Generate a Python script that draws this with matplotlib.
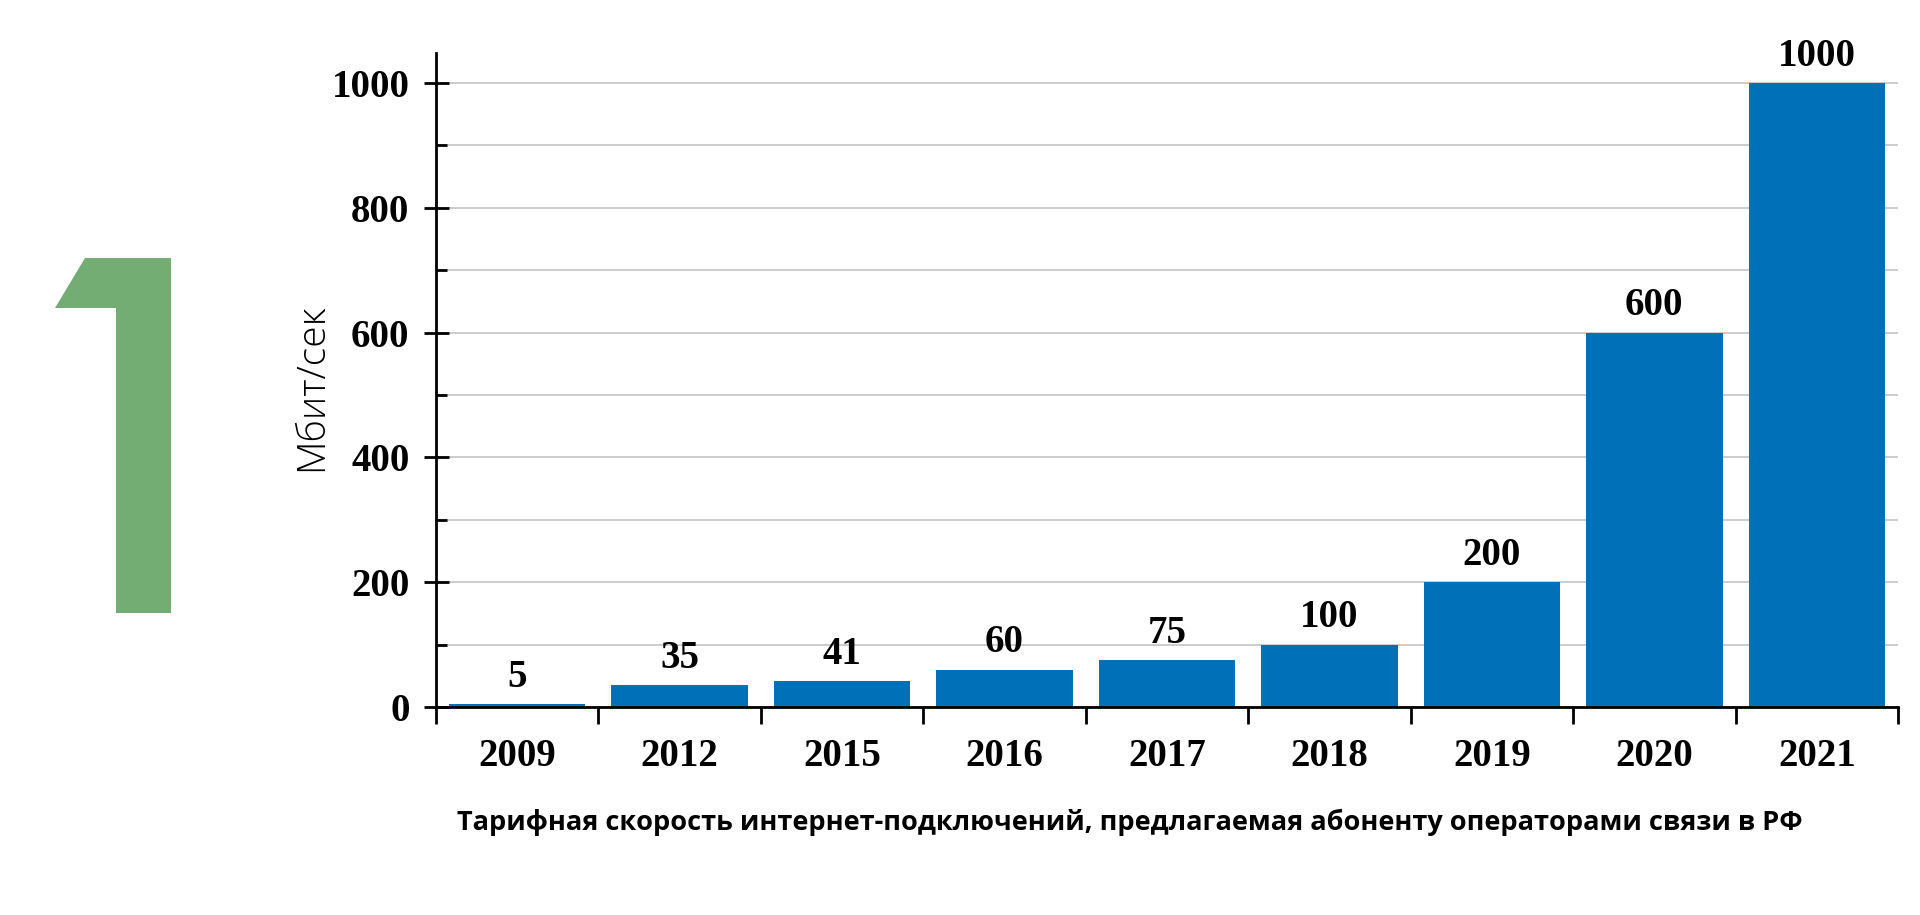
import matplotlib.pyplot as plt
from matplotlib.patches import Polygon
from matplotlib.ticker import FixedLocator, NullFormatter

years = ['2009', '2012', '2015', '2016', '2017', '2018', '2019', '2020', '2021']
speeds = [5, 35, 41, 60, 75, 100, 200, 600, 1000]
ylabel = 'Мбит/сек'
caption = 'Тарифная скорость интернет-подключений, предлагаемая абоненту операторами связи в РФ'

W, H = 1920, 915
fig = plt.figure(figsize=(W / 100, H / 100), dpi=100)
ax = fig.add_axes([436 / W, 1 - 707 / H, (1898 - 436) / W, (707 - 53) / H])

x = list(range(len(years)))
ax.bar(x, speeds, width=0.84, color='#0071b9', zorder=3)

ax.set_xlim(-0.5, len(years) - 0.5)
ax.set_ylim(0, 1048)

# y axis: majors every 200, minors every 100, grid on both
ax.yaxis.set_major_locator(FixedLocator([0, 200, 400, 600, 800, 1000]))
ax.yaxis.set_minor_locator(FixedLocator([100, 300, 500, 700, 900]))
ax.yaxis.set_minor_formatter(NullFormatter())
ax.grid(axis='y', which='both', color='#c8c8c8', lw=1.3, zorder=0)
ax.tick_params(axis='y', which='major', direction='inout', length=18, width=2, pad=10)
ax.tick_params(axis='y', which='minor', direction='in', length=8, width=2)

# x axis: ticks between categories, labels centered
ax.set_xticks([i + 0.5 for i in x[:-1]] + [-0.5, len(years) - 0.5])
ax.set_xticklabels([])
ax.set_xticks(x, minor=True)
ax.set_xticklabels(years, minor=True)
ax.tick_params(axis='x', which='major', direction='out', length=12, width=2)
ax.tick_params(axis='x', which='minor', length=0, pad=22)

serif = dict(family='Liberation Serif', weight='bold', size=28)
for lab in ax.get_yticklabels() + ax.get_xticklabels(minor=True):
    lab.set_fontfamily('Liberation Serif')
    lab.set_fontweight('bold')
    lab.set_fontsize(28)

for s in ['top', 'right']:
    ax.spines[s].set_visible(False)
for s in ['left', 'bottom']:
    ax.spines[s].set_linewidth(2)
    ax.spines[s].set_zorder(4)

for xi, v in zip(x, speeds):
    ax.annotate(str(v), (xi, v), xytext=(0, 6), textcoords='offset points',
                ha='center', va='bottom', **serif)

fig.text(312 / W, 1 - 387 / H, ylabel, rotation=90, ha='center', va='center',
         family='Open Sans', fontweight='light', fontsize=28)
fig.text(1130 / W, 1 - 822 / H, caption, ha='center', va='center',
         family='Open Sans', fontweight='bold', fontsize=19.5)

# decorative green "1"
one = [(85, 258), (171, 258), (171, 613), (116, 613), (116, 308), (55, 308)]
fig.patches.append(Polygon([(px / W, 1 - py / H) for px, py in one], closed=True,
                           transform=fig.transFigure, facecolor='#74ad74', edgecolor='none'))

fig.savefig('out.png', dpi=100)
